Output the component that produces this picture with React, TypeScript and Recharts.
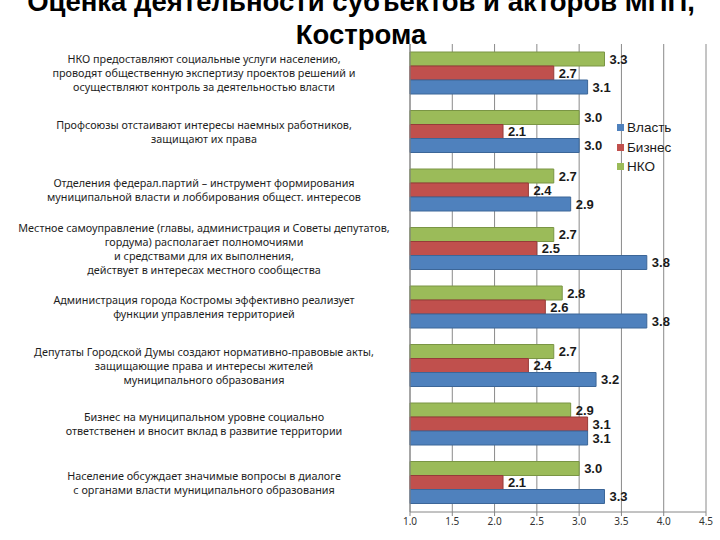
import React from 'react';
import { BarChart, Bar, XAxis, YAxis, CartesianGrid, LabelList } from 'recharts';

const categories = [
  'НКО предоставляют социальные услуги населению,\nпроводят общественную экспертизу проектов решений и\nосуществляют контроль за деятельностью власти',
  'Профсоюзы отстаивают интересы наемных работников,\nзащищают их права',
  'Отделения федерал.партий – инструмент формирования\nмуниципальной власти и лоббирования общест. интересов',
  'Местное самоуправление (главы, администрация и Советы депутатов,\nгордума) располагает полномочиями\nи средствами для их выполнения,\nдействует в интересах местного сообщества',
  'Администрация города Костромы  эффективно реализует\nфункции управления территорией',
  'Депутаты Городской Думы создают нормативно-правовые акты,\nзащищающие права и интересы жителей\nмуниципального образования',
  'Бизнес на муниципальном уровне социально\nответственен и вносит вклад в развитие территории',
  'Население обсуждает значимые вопросы в диалоге\nс органами власти  муниципального образования',
];

const vlast = [3.1, 3.0, 2.9, 3.8, 3.8, 3.2, 3.1, 3.3];
const biznes = [2.7, 2.1, 2.4, 2.5, 2.6, 2.4, 3.1, 2.1];
const nko = [3.3, 3.0, 2.7, 2.7, 2.8, 2.7, 2.9, 3.0];

const xTicks = [1.0, 1.5, 2.0, 2.5, 3.0, 3.5, 4.0, 4.5];

// legend order (Власть, Бизнес, НКО); bars are drawn НКО first so it sits on top
const series = [
  { key: 'vlast', name: 'Власть', fill: '#4F81BD', stroke: '#3C6698' },
  { key: 'biznes', name: 'Бизнес', fill: '#C0504D', stroke: '#963B39' },
  { key: 'nko', name: 'НКО', fill: '#9BBB59', stroke: '#7A9544' },
];

const data = categories.map((name, i) => ({
  name,
  vlast: vlast[i],
  biznes: biznes[i],
  nko: nko[i],
}));

const LABEL_CENTER = 204;

const CategoryTick = (props: any) => {
  const { y, payload } = props;
  const lines: string[] = String(payload.value).split('\n');
  const lh = 14;
  const start = y - ((lines.length - 1) * lh) / 2 + 4;
  return (
    <text
      x={LABEL_CENTER}
      y={start}
      textAnchor="middle"
      fontFamily="'Noto Sans', sans-serif"
      fontSize={10.8}
      fill="#1e1e1e"
    >
      {lines.map((l, i) => (
        <tspan key={i} x={LABEL_CENTER} y={start + i * lh}>
          {l}
        </tspan>
      ))}
    </text>
  );
};

const fmt = (v: any) => Number(v).toFixed(1);

export default function App() {
  const drawOrder = [series[2], series[1], series[0]];
  return (
    <div
      style={{
        position: 'absolute',
        left: 0,
        top: 0,
        width: 720,
        height: 540,
        background: '#fff',
        overflow: 'hidden',
      }}
    >
      <BarChart
        width={720}
        height={540}
        data={data}
        layout="vertical"
        margin={{ top: 44, right: 14, bottom: 0, left: 0 }}
        barSize={14}
        barGap={0}
      >
        <CartesianGrid horizontal={false} stroke="#8a8a8a" strokeWidth={1} />
        <XAxis
          type="number"
          domain={[1, 4.5]}
          ticks={xTicks}
          tickFormatter={fmt}
          height={28}
          axisLine={{ stroke: '#868686' }}
          tickLine={{ stroke: '#868686' }}
          tickSize={4}
          tick={{ fontSize: 10, fill: '#333', fontFamily: "'Noto Sans', sans-serif" }}
          interval={0}
        />
        <YAxis
          type="category"
          dataKey="name"
          width={410}
          axisLine={{ stroke: '#868686' }}
          tickLine={false}
          tick={<CategoryTick />}
          interval={0}
        />
        {drawOrder.map((s) => (
          <Bar
            key={s.key}
            dataKey={s.key}
            name={s.name}
            fill={s.fill}
            stroke={s.stroke}
            strokeWidth={1}
            isAnimationActive={false}
          >
            <LabelList
              dataKey={s.key}
              position="right"
              offset={5}
              formatter={fmt}
              style={{
                fontSize: 13,
                fontWeight: 'bold',
                fill: '#1a1a1a',
                fontFamily: "'Liberation Sans', Arial, sans-serif",
              }}
            />
          </Bar>
        ))}
      </BarChart>

      <div
        style={{
          position: 'absolute',
          left: 617,
          top: 118,
          fontFamily: "'Liberation Sans', Arial, sans-serif",
          fontSize: 13.5,
          color: '#1a1a1a',
        }}
      >
        {series.map((s) => (
          <div key={s.key} style={{ display: 'flex', alignItems: 'center', height: 19.5 }}>
            <span
              style={{
                display: 'inline-block',
                width: 7,
                height: 7,
                background: s.fill,
                marginRight: 3,
              }}
            />
            <span>{s.name}</span>
          </div>
        ))}
      </div>

      <div
        style={{
          position: 'absolute',
          left: 0,
          top: -15,
          width: 722,
          textAlign: 'center',
          fontFamily: "'Liberation Sans', Arial, sans-serif",
          fontWeight: 'bold',
          fontSize: 27.5,
          lineHeight: '33px',
          color: '#000',
        }}
      >
        Оценка деятельности субъектов и акторов МПП,
        <br />
        Кострома
      </div>
    </div>
  );
}
